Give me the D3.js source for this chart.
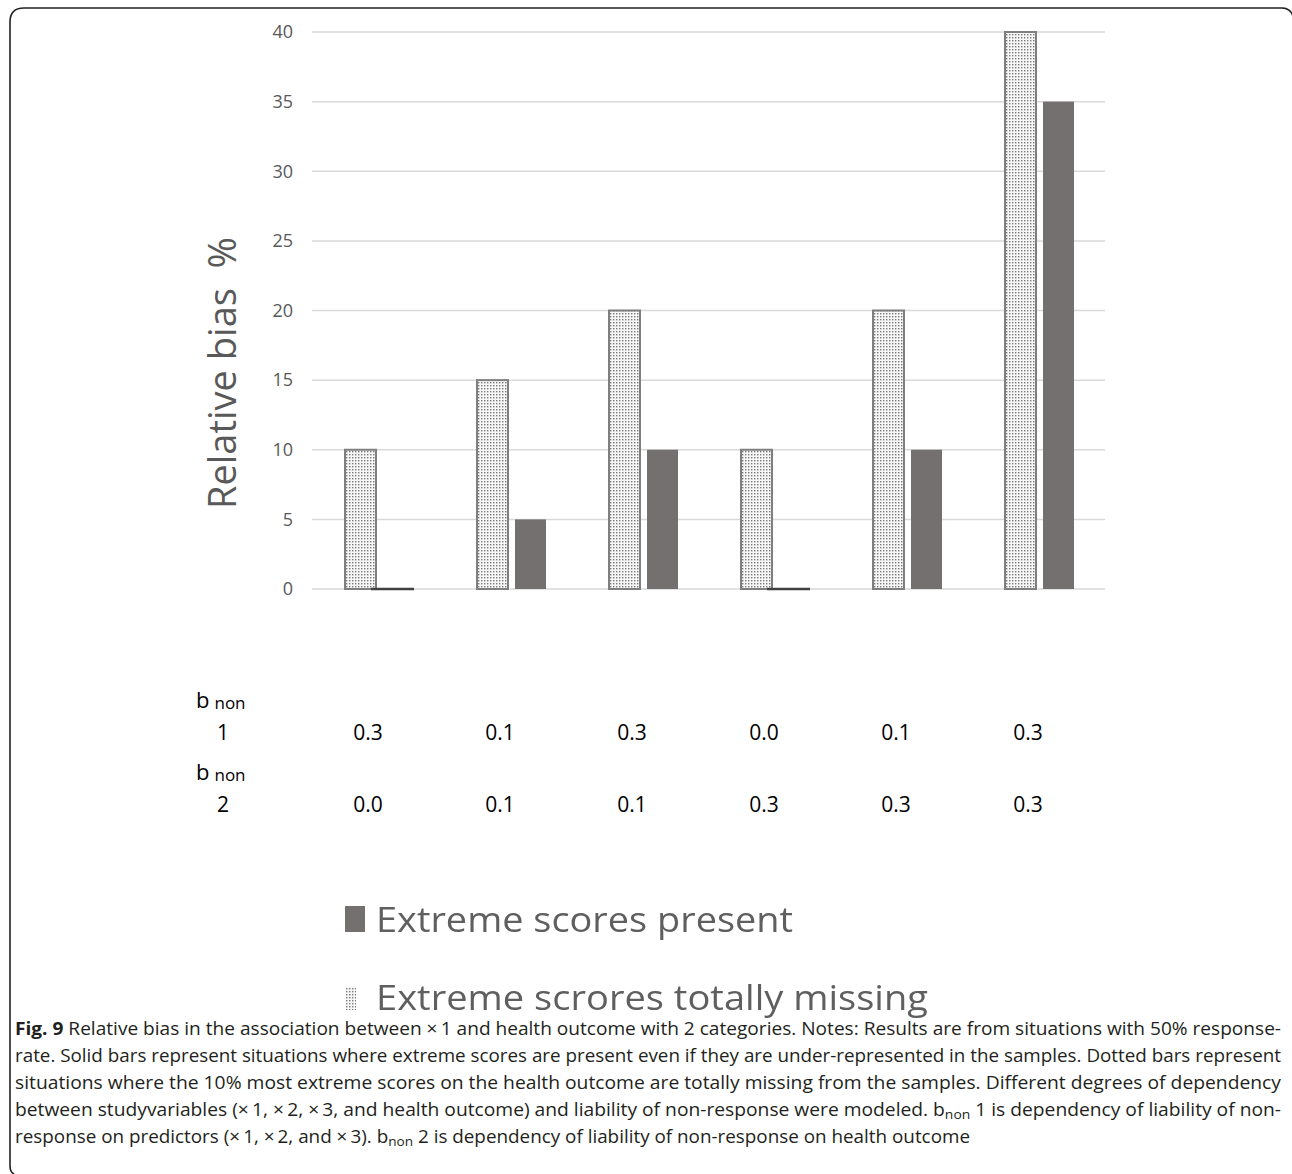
<!DOCTYPE html>
<html><head><meta charset="utf-8">
<script src="https://cdn.jsdelivr.net/npm/d3@7"></script>
<style>body{margin:0;background:#fff}</style>
</head><body>
<script>
const groups = [0,1,2,3,4,5];
const seriesKeys = ["missing","present"];
const missing = [10,15,20,10,20,40];
const present = [0,5,10,0,10,35];
const bnon1 = ["0.3","0.1","0.3","0.0","0.1","0.3"];
const bnon2 = ["0.0","0.1","0.1","0.3","0.3","0.3"];
const yTicks = [0,5,10,15,20,25,30,35,40];
const legendLabels = ["Extreme scores present","Extreme scrores totally missing"];
const captionLines = [
 [["b","Fig. 9"],["n"," Relative bias in the association between \u00d7\u20091 and health outcome with 2 categories. Notes: Results are from situations with 50% response-"]],
 [["n","rate. Solid bars represent situations where extreme scores are present even if they are under-represented in the samples. Dotted bars represent"]],
 [["n","situations where the 10% most extreme scores on the health outcome are totally missing from the samples. Different degrees of dependency"]],
 [["n","between studyvariables (\u00d7\u20091, \u00d7\u20092, \u00d7\u20093, and health outcome) and liability of non-response were modeled. b"],["s","non"],["n"," 1 is dependency of liability of non-"]],
 [["n","response on predictors (\u00d7\u20091, \u00d7\u20092, and \u00d7\u20093). b"],["s","non"],["n"," 2 is dependency of liability of non-response on health outcome"]]
];

const W=1292,H=1174;
const svg=d3.select("body").append("svg").attr("width",W).attr("height",H);
const defs=svg.append("defs");
const pat=defs.append("pattern").attr("id","dots").attr("patternUnits","userSpaceOnUse").attr("width",3).attr("height",3);
pat.append("rect").attr("width",3).attr("height",3).attr("fill","#f7f7f7");
pat.append("rect").attr("x",1).attr("y",1).attr("width",1.4).attr("height",1.4).attr("fill","#7a7a7a");
defs.append("filter").attr("id","blur").append("feGaussianBlur").attr("stdDeviation",0.6);

// border
svg.append("path").attr("d","M14,1174 Q10,1172 10,1166 L10,22 Q10,8 24,8 L1282,8 Q1290,8 1293,16")
 .attr("fill","none").attr("stroke","#222").attr("stroke-width",1.6);

const x=d3.scaleBand().domain(groups).range([312,1104]).padding(0);
const xs=d3.scaleBand().domain(seriesKeys).range([33,102]).paddingInner(7/38).paddingOuter(0);
const y=d3.scaleLinear().domain([0,40]).range([589,32]);

// grid
svg.append("g").selectAll("line").data(yTicks).join("line")
 .attr("x1",312).attr("x2",1105).attr("y1",d=>y(d)).attr("y2",d=>y(d))
 .attr("stroke","#d9d9d9").attr("stroke-width",1.5);
const yAxis=svg.append("g").attr("transform","translate(312,0)")
 .call(d3.axisLeft(y).tickValues(yTicks).tickSize(0).tickPadding(19));
yAxis.select(".domain").remove();
yAxis.selectAll("text").attr("font-family","Open Sans").attr("font-size",18).attr("fill","#595959");

svg.append("text").attr("transform","translate(236,373) rotate(-90)").attr("text-anchor","middle")
 .attr("font-family","Open Sans").attr("font-size",38).attr("fill","#595959").text("Relative bias\u00a0\u00a0%");

// bars
const g=svg.append("g");
g.selectAll("rect.m").data(groups).join("rect").attr("class","m")
 .attr("x",d=>x(d)+xs("missing")).attr("width",xs.bandwidth())
 .attr("y",d=>y(missing[d])).attr("height",d=>y(0)-y(missing[d]))
 .attr("fill","url(#dots)").attr("stroke","#7f7f7f").attr("stroke-width",2);
g.selectAll("rect.p").data(groups).join("rect").attr("class","p")
 .attr("x",d=>x(d)+xs("present")).attr("width",xs.bandwidth())
 .attr("y",d=>y(present[d])).attr("height",d=>y(0)-y(present[d]))
 .attr("fill","#747070");
g.selectAll("line.z").data(groups.filter(d=>present[d]===0)).join("line").attr("class","z")
 .attr("x1",d=>x(d)+xs("present")-12).attr("x2",d=>x(d)+xs("present")+xs.bandwidth())
 .attr("y1",y(0)).attr("y2",y(0)).attr("stroke","#404040").attr("stroke-width",2.5);

// table
const tf="Open Sans";
function bLabel(yb,num){
 const t=svg.append("text").attr("x",196).attr("y",yb).attr("font-family",tf).attr("font-size",22).attr("fill","#000");
 t.append("tspan").text("b");
 t.append("tspan").attr("dx",5).attr("dy",1).attr("font-size",17).text("non");
 svg.append("text").attr("x",217).attr("y",yb+32).attr("font-family",tf).attr("font-size",21).attr("fill","#000").text(num);
}
bLabel(708,"1"); bLabel(780,"2");
svg.append("g").selectAll("text").data(groups).join("text")
 .attr("x",d=>x(d)+x.bandwidth()/2-10).attr("y",740).attr("text-anchor","middle")
 .attr("font-family",tf).attr("font-size",21).attr("fill","#000").text(d=>bnon1[d]);
svg.append("g").selectAll("text").data(groups).join("text")
 .attr("x",d=>x(d)+x.bandwidth()/2-10).attr("y",812).attr("text-anchor","middle")
 .attr("font-family",tf).attr("font-size",21).attr("fill","#000").text(d=>bnon2[d]);

// legend
const lg=svg.append("g").attr("filter","url(#blur)");
lg.append("rect").attr("x",345).attr("y",906).attr("width",20).attr("height",26).attr("fill","#747070");
lg.append("rect").attr("x",346).attr("y",987).attr("width",10).attr("height",23).attr("fill","url(#dots)");
lg.selectAll("text").data(legendLabels).join("text")
 .attr("x",376).attr("y",(d,i)=>932+i*78).attr("font-family","Open Sans").attr("font-size",34)
 .attr("fill","#5f5f5f").attr("textLength",(d,i)=>i===0?417:552).attr("lengthAdjust","spacingAndGlyphs").text(d=>d);

// caption
captionLines.forEach((parts,i)=>{
 const t=svg.append("text").attr("x",15).attr("y",1035+i*27).attr("font-family","Open Sans")
  .attr("font-size",18).attr("fill","#231f20");
 t.attr("textLength",i<4?1266:955).attr("lengthAdjust","spacingAndGlyphs");
 parts.forEach(p=>{
  const s=t.append("tspan").text(p[1]);
  if(p[0]==="b") s.attr("font-weight","bold");
  if(p[0]==="s") s.attr("font-size",13).attr("baseline-shift","-3");
 });
});
</script>
</body></html>
